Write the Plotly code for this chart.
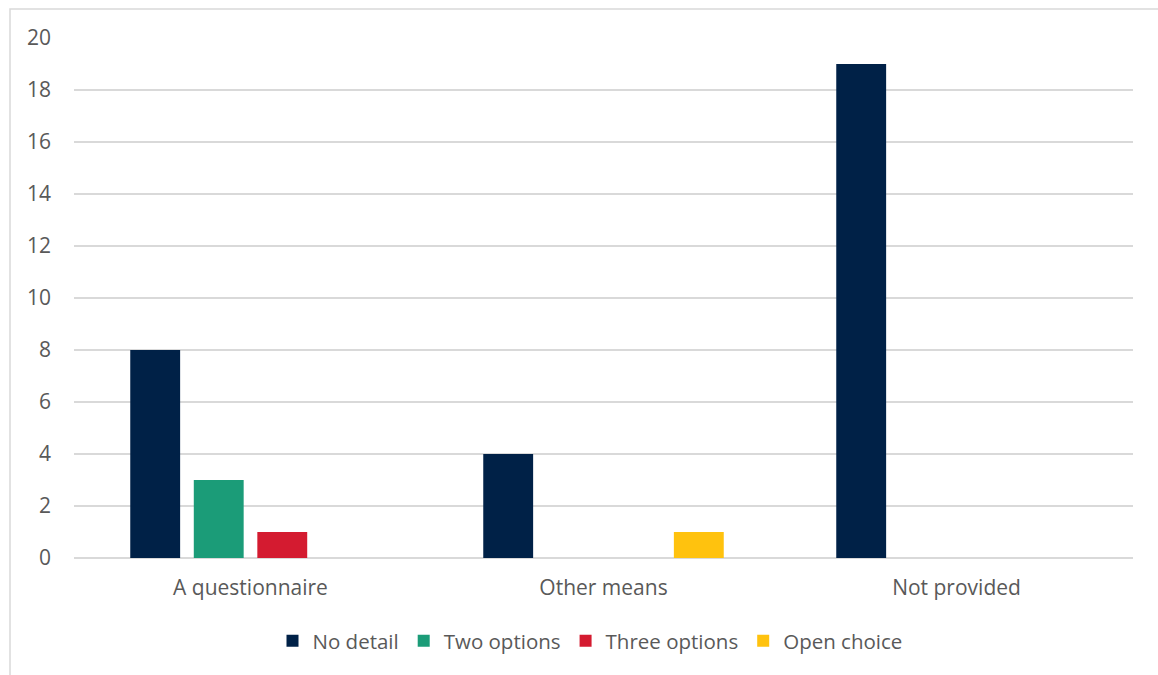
import plotly.graph_objects as go

categories = ["A questionnaire", "Other means", "Not provided"]
series_names = ["No detail", "Two options", "Three options", "Open choice"]
no_detail = [8, 4, 19]
two_options = [3, 0, 0]
three_options = [1, 0, 0]
open_choice = [0, 1, 0]
colors = ["#002147", "#1b9c78", "#d41b30", "#ffc20e"]

W, H = 1158, 675
L, R, T, B = 74, 25, 38, 117
pw = W - L - R
ph = H - T - B

fam = "Open Sans, Calibri, sans-serif"

fig = go.Figure()
for name, vals, c in zip(series_names, [no_detail, two_options, three_options, open_choice], colors):
    fig.add_trace(go.Bar(x=categories, y=vals, name=name, marker_color=c, marker_line_width=0))

fig.update_layout(
    width=W, height=H,
    margin=dict(l=L, r=R, t=T, b=B),
    paper_bgcolor="white", plot_bgcolor="white",
    barmode="group", bargap=0.28, bargroupgap=0.215,
    font=dict(family=fam, size=20, color="#595959"),
    showlegend=True,
    legend=dict(orientation="h", x=(590 - L) / pw, xanchor="center",
                y=-(641 - T - ph) / ph, yanchor="middle",
                font=dict(family=fam, size=20.5, color="#595959"),
                itemwidth=30, traceorder="normal"),
    xaxis=dict(showgrid=False, showline=False, ticks="", tickfont=dict(size=21), ticklabelstandoff=15),
    yaxis=dict(range=[0, 20], dtick=2, showgrid=True, gridcolor="#d9d9d9", gridwidth=1.5,
               zeroline=True, zerolinecolor="#d9d9d9", zerolinewidth=1.5,
               showline=False, ticks="", ticklabelstandoff=22, tickfont=dict(size=21)),
    shapes=[dict(type="rect", xref="paper", yref="paper",
                 x0=(10 - L) / pw, x1=(W + 5 - L) / pw,
                 y0=-(H + 5 - T - ph) / ph, y1=(T + ph - 9) / ph,
                 line=dict(color="#d9d9d9", width=1.5), fillcolor="rgba(0,0,0,0)", layer="below")],
)

fig.write_html("out.html")
